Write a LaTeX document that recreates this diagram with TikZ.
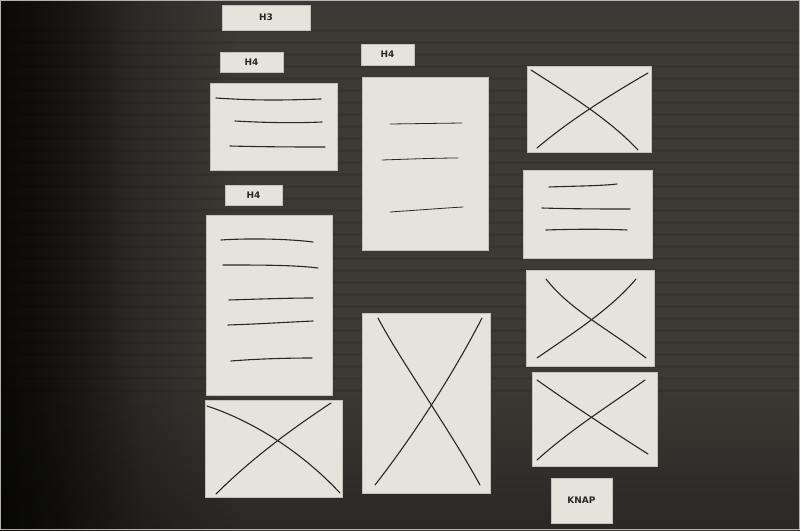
\documentclass[tikz,border=0pt]{standalone}
\usepackage{fontspec}
\setsansfont{DejaVu Sans}
\usetikzlibrary{fadings}
\definecolor{matbg}{HTML}{3D3A35}
\definecolor{matdark}{HTML}{0A0908}
\definecolor{paper}{HTML}{E6E3DC}
\definecolor{ink}{HTML}{2A2824}
\pgfdeclarehorizontalshading{mat}{100bp}{color(0bp)=(matdark); color(25bp)=(matdark); color(29bp)=(matbg!35!black); color(34bp)=(matbg!75!black); color(40bp)=(matbg); color(100bp)=(matbg)}
\tikzset{
  card/.style={draw=paper!85!black, line width=0.4pt, fill=paper, inner sep=0pt, anchor=center},
  tag/.style={card, font=\sffamily\bfseries\fontsize{9}{9}\selectfont, text=ink},
  scrib/.style={draw=ink, line width=1.1pt, line cap=round},
}
\begin{document}
\begin{tikzpicture}[x=1pt,y=-1pt]
\useasboundingbox (0,0) rectangle (800,530);
\shade[shading=mat] (0,0) rectangle (800,530);
\foreach \yy in {30,42,...,400} \draw[black,opacity=0.08,line width=3pt] (0,\yy) -- (800,\yy);
\fill[black, opacity=0.3, path fading=north] (0,380) rectangle (800,530);
\draw[gray!60, line width=0.8pt] (0.5,0.5) rectangle (799.5,529.5);
% labels
\node[tag, minimum width=88, minimum height=25] (h3) at (266,17.5) {H3};
\node[tag, minimum width=63, minimum height=20] (h4a) at (251.5,62) {H4};
\node[tag, minimum width=53, minimum height=21] (h4b) at (387.5,54.5) {H4};
\node[tag, minimum width=57, minimum height=20] (h4c) at (253.5,195) {H4};
\node[tag, minimum width=61, minimum height=45] (knap) at (581.5,500.5) {KNAP};
% cards
\node[card, minimum width=127, minimum height=87] (A) at (273.5,126.5) {};
\node[card, minimum width=126, minimum height=180] (B) at (269,305) {};
\node[card, minimum width=137, minimum height=97] (C) at (273.5,448.5) {};
\node[card, minimum width=126, minimum height=173] (D) at (425,163.5) {};
\node[card, minimum width=128, minimum height=180] (E) at (426,403) {};
\node[card, minimum width=124, minimum height=86] (F) at (589,109) {};
\node[card, minimum width=129, minimum height=88] (G) at (587.5,214) {};
\node[card, minimum width=128, minimum height=96] (H) at (590,318) {};
\node[card, minimum width=125, minimum height=94] (I) at (594.5,419) {};
% text lines
\draw[scrib] (216,98) .. controls (260,101) and (290,100) .. (321,99);
\draw[scrib] (235,121) .. controls (270,123) and (300,123) .. (322,122);
\draw[scrib] (230,146) .. controls (270,147) and (300,147) .. (325,147);
\draw[scrib] (221,240) .. controls (250,238) and (290,239) .. (313,242);
\draw[scrib] (223,265) .. controls (260,265) and (295,265) .. (318,268);
\draw[scrib] (229,300) .. controls (260,299) and (290,298) .. (313,298);
\draw[scrib] (228,325) .. controls (260,324) and (290,322) .. (313,321);
\draw[scrib] (231,361) .. controls (255,359) and (285,358) .. (312,358);
\draw[scrib, line width=0.8pt] (390,124) -- (462,123);
\draw[scrib, line width=0.8pt] (382,160) .. controls (410,159) and (440,158) .. (458,158);
\draw[scrib, line width=0.8pt] (390,212) .. controls (420,210) and (445,208) .. (463,207);
\draw[scrib] (549,187) .. controls (575,186) and (600,186) .. (617,184);
\draw[scrib] (542,208) .. controls (575,209) and (605,209) .. (630,209);
\draw[scrib] (546,230) .. controls (575,229) and (605,229) .. (627,230);
% crosses
\draw[scrib] (531,70) .. controls (570,95) and (610,120) .. (638,150);
\draw[scrib] (648,73) .. controls (610,95) and (570,120) .. (537,148);
\draw[scrib] (546,279) .. controls (570,310) and (610,330) .. (646,358);
\draw[scrib] (636,279) .. controls (610,310) and (570,335) .. (537,358);
\draw[scrib] (537,380) .. controls (565,400) and (610,430) .. (648,454);
\draw[scrib] (645,380) .. controls (610,405) and (570,430) .. (537,460);
\draw[scrib] (207,406) .. controls (250,420) and (300,450) .. (340,493);
\draw[scrib] (331,403) .. controls (290,430) and (250,460) .. (216,494);
\draw[scrib] (378,318) .. controls (400,360) and (450,430) .. (480,485);
\draw[scrib] (482,318) .. controls (450,380) and (410,440) .. (375,485);
\end{tikzpicture}
\end{document}
